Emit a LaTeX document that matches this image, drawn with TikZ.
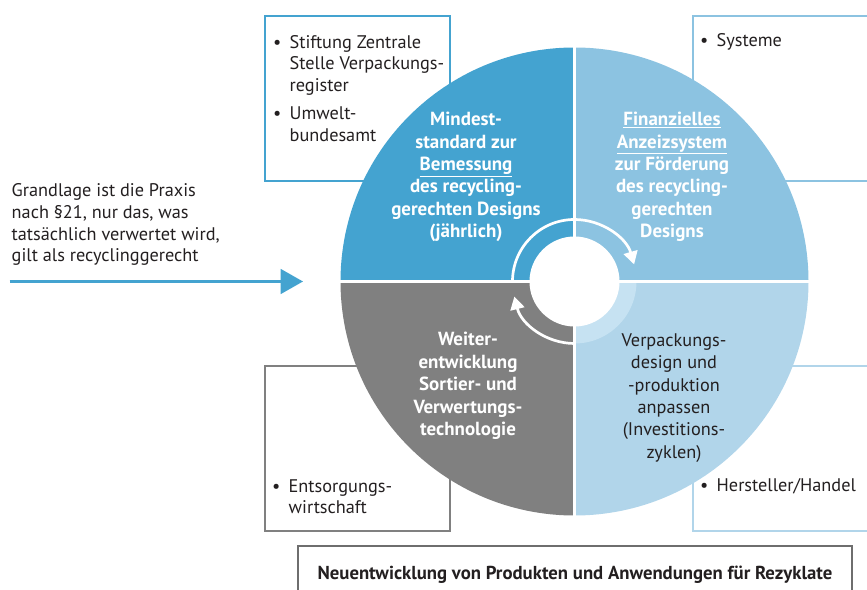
\documentclass[tikz,border=0pt]{standalone}
\usepackage{fontspec}
\setmainfont{PT Sans}
\usetikzlibrary{arrows.meta,calc}

\definecolor{tlblue}{HTML}{44A3D0}
\definecolor{trblue}{HTML}{8CC3E1}
\definecolor{brblue}{HTML}{B1D5EA}
\definecolor{brband}{HTML}{C6E2F2}
\definecolor{blgray}{HTML}{808080}
\definecolor{botgray}{HTML}{6E6E6E}
\definecolor{txtdark}{HTML}{231F20}

\tikzset{
  quad text/.style={text=white, font=\bfseries\fontsize{16.2}{19.1}\selectfont, align=center, inner sep=0pt},
  quad dark/.style={quad text, text=txtdark, font=\fontsize{15.6}{19.1}\selectfont},
  box text/.style={text=txtdark, font=\fontsize{15.6}{18.3}\selectfont, anchor=west, inner sep=0pt},
  infobox/.style={line width=2.3pt},
  ring arrow/.style={white, line width=2.3pt, -{Triangle[length=11pt,width=12pt]}},
  feed arrow/.style={tlblue, line width=2.1pt, -{Triangle[length=19pt,width=21pt]}}
}

\begin{document}
\begin{tikzpicture}[x=0.03cm,y=0.03cm]
    \useasboundingbox (0,0) rectangle (867,590);
    \clip (0,0) rectangle (867,590);
    \coordinate (C) at (574.5,308.5);
    % boxes behind the circle
    \draw[infobox, tlblue] (265,574) rectangle (450,409);
    \draw[infobox, trblue] (693,574) rectangle (885,409);
    \draw[infobox, blgray] (265,224) rectangle (450,59);
    \draw[infobox, brblue] (693,224) rectangle (885,59);
    \draw[infobox, botgray] (298,44) rectangle (852,-10);
    % quadrants
    \fill[tlblue] (C) -- ++(180:234) arc (180:90:234) -- cycle;
    \fill[trblue] (C) -- ++(90:234) arc (90:0:234) -- cycle;
    \fill[brblue] (C) -- ++(0:234) arc (0:-90:234) -- cycle;
    \fill[blgray] (C) -- ++(-90:234) arc (-90:-180:234) -- cycle;
    \fill[brband] (C) -- ++(0:62) arc (0:-90:62) -- cycle;
    \draw[white, line width=2.8pt] ($(C)+(0,-240)$) -- ($(C)+(0,240)$);
    \draw[white, line width=2.8pt] ($(C)+(-240,0)$) -- ($(C)+(240,0)$);
    \fill[white] (C) circle (45);
    \draw[ring arrow] ($(C)+(180:62)$) arc (180:16:62);
    \draw[ring arrow] ($(C)+(270:62)$) arc (270:194:62);
    % texts in the quadrants
    \node[quad text] (mindest) at (466,413) {Mindest-\\standard zur\\\underline{Bemessung}\\des recycling-\\gerechten Designs\\(jährlich)};
    \node[quad text] (anzeiz) at (672,413) {\underline{Finanzielles}\\\underline{Anzeizsystem}\\zur Förderung\\des recycling-\\gerechten\\Designs};
    \node[quad text] (weiter) at (468,204) {Weiter-\\entwicklung\\Sortier- und\\Verwertungs-\\technologie};
    \node[quad dark] (verpack) at (674,192) {Verpackungs-\\design und\\-produktion\\anpassen\\(Investitions-\\zyklen)};
    % box texts
    \node[box text] (zsvr) at (273,499.5) {\begin{tabular}{@{}l@{\hspace{7pt}}l@{}}\textbullet & Stiftung Zentrale\\ & Stelle Verpackungs-\\ & register\\[6pt] \textbullet & Umwelt-\\ & bundesamt\end{tabular}};
    \node[box text] (systeme) at (700,547.7) {\begin{tabular}{@{}l@{\hspace{7pt}}l@{}}\textbullet & Systeme\end{tabular}};
    \node[box text] (entsorg) at (272,91.5) {\begin{tabular}{@{}l@{\hspace{7pt}}l@{}}\textbullet & Entsorgungs-\\ & wirtschaft\end{tabular}};
    \node[box text] (herst) at (700,103) {\begin{tabular}{@{}l@{\hspace{7pt}}l@{}}\textbullet & Hersteller/Handel\end{tabular}};
    \node[text=txtdark, font=\bfseries\fontsize{16}{18}\selectfont, inner sep=0pt] (neu) at (575,15) {Neuentwicklung von Produkten und Anwendungen für Rezyklate};
    % input on the left
    \node[box text, align=left, font=\fontsize{15.6}{18.7}\selectfont] (praxis) at (11.5,365.5) {Grandlage ist die Praxis\\nach §21, nur das, was\\tatsächlich verwertet wird,\\gilt als recyclinggerecht};
    \coordinate (src) at (9.5,308.5);
    \coordinate (tip) at (303,308.5);
    \draw[feed arrow] (src) -- (tip);
\end{tikzpicture}
\end{document}
